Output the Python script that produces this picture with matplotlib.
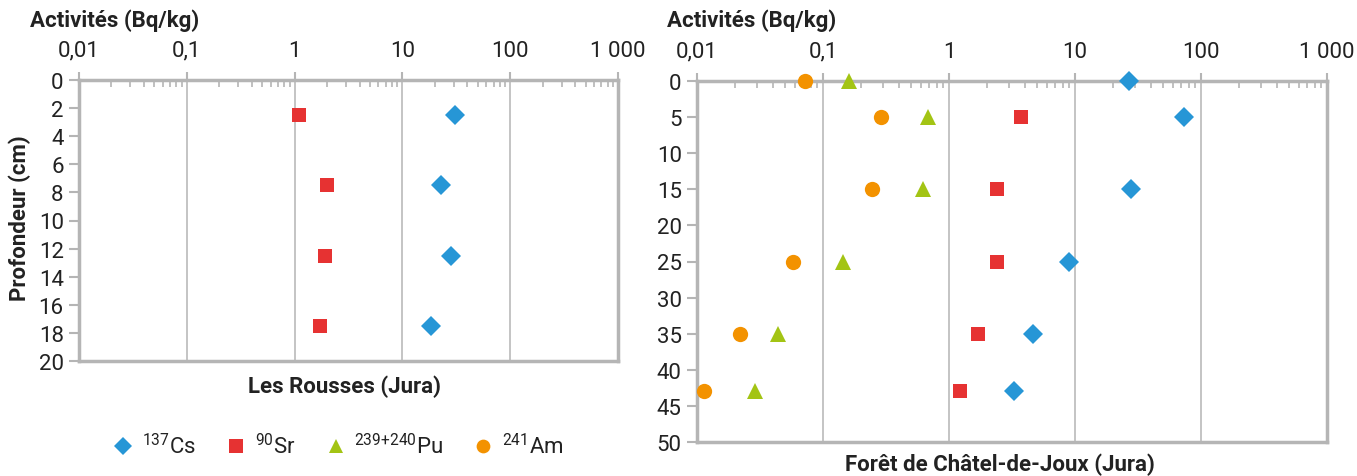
import matplotlib
matplotlib.use("Agg")
import matplotlib.pyplot as plt
from matplotlib.ticker import LogLocator, FixedLocator, NullFormatter
from matplotlib.lines import Line2D

plt.rcParams['font.family'] = ['Roboto', 'DejaVu Sans']
plt.rcParams['mathtext.fontset'] = 'custom'
plt.rcParams['mathtext.rm'] = 'Roboto'

# Les Rousses (Jura)
rousses_depth = [2.5, 7.5, 12.5, 17.5]
rousses_cs = [31, 23, 28, 18.5]
rousses_sr = [1.1, 2.0, 1.9, 1.73]

# Forêt de Châtel-de-Joux (Jura)
chatel_depth = [0, 5, 15, 25, 35, 43]
chatel_cs = [27, 73, 28, 9.0, 4.6, 3.3]
chatel_sr = [None, 3.7, 2.4, 2.4, 1.7, 1.22]
chatel_pu = [0.16, 0.68, 0.62, 0.144, 0.044, 0.029]
chatel_am = [0.072, 0.29, 0.245, 0.058, 0.022, 0.0114]

x_ticks = [0.01, 0.1, 1, 10, 100, 1000]
x_tick_labels = ["0,01", "0,1", "1", "10", "100", "1 000"]

C_CS = "#2696d6"
C_SR = "#e63232"
C_PU = "#a3c414"
C_AM = "#f39200"
GRID = "#c4c4c4"
FRAME = "#b5b5b5"
TXT = "#222222"

series_style = {
    "cs": dict(marker="D", color=C_CS, ms=10.5),
    "sr": dict(marker="s", color=C_SR, ms=10.5),
    "pu": dict(marker="^", color=C_PU, ms=11.5),
    "am": dict(marker="o", color=C_AM, ms=11),
}

fig = plt.figure(figsize=(13.57, 4.77), dpi=100)
ax1 = fig.add_axes([79/1357, 1-362/477, (618-79)/1357, (362-81)/477])
ax2 = fig.add_axes([697/1357, 1-443/477, (1327-697)/1357, (443-82)/477])


def style_axis(ax, ymax, ystep):
    ax.set_xscale("log")
    ax.set_xlim(0.01, 1000)
    ax.set_ylim(ymax, 0)
    ax.xaxis.set_ticks_position("top")
    ax.xaxis.set_major_locator(FixedLocator(x_ticks))
    ax.set_xticklabels(x_tick_labels)
    ax.xaxis.set_minor_locator(LogLocator(base=10, subs=range(2, 10), numticks=20))
    ax.xaxis.set_minor_formatter(NullFormatter())
    ax.tick_params(axis="x", which="major", direction="out", length=6, width=1.5,
                   color=FRAME, labelsize=16, labelcolor=TXT, pad=8)
    ax.tick_params(axis="x", which="minor", direction="in", length=5, width=1.2,
                   color=FRAME)
    ax.set_yticks(list(range(0, ymax + 1, ystep)))
    ax.tick_params(axis="y", which="major", direction="out", length=7, width=1.5,
                   color=FRAME, labelsize=16, labelcolor=TXT, pad=4)
    for s in ax.spines.values():
        s.set_color(FRAME)
        s.set_linewidth(2.5)
    ax.grid(axis="x", which="major", color=GRID, lw=1.4)
    ax.set_axisbelow(True)


def plot_series(ax, vals, depths, key):
    xs = [v for v in vals if v is not None]
    ys = [d for v, d in zip(vals, depths) if v is not None]
    st = series_style[key]
    ax.plot(xs, ys, ls="none", marker=st["marker"], ms=st["ms"],
            mfc=st["color"], mec=st["color"], mew=0, zorder=5, clip_on=False)


style_axis(ax1, 20, 2)
style_axis(ax2, 50, 5)

plot_series(ax1, rousses_cs, rousses_depth, "cs")
plot_series(ax1, rousses_sr, rousses_depth, "sr")

plot_series(ax2, chatel_cs, chatel_depth, "cs")
plot_series(ax2, chatel_sr, chatel_depth, "sr")
plot_series(ax2, chatel_pu, chatel_depth, "pu")
plot_series(ax2, chatel_am, chatel_depth, "am")

title_kw = dict(fontsize=16, fontweight="bold", color=TXT)
fig.text(30/1357, 1-21/477, "Activités (Bq/kg)", ha="left", va="center", **title_kw)
fig.text(667/1357, 1-21/477, "Activités (Bq/kg)", ha="left", va="center", **title_kw)
fig.text(345/1357, 1-387/477, "Les Rousses (Jura)", ha="center", va="center", **title_kw)
fig.text(1000/1357, 1-465/477, "Forêt de Châtel-de-Joux (Jura)", ha="center", va="center", **title_kw)
fig.text(20/1357, 1-218/477, "Profondeur (cm)", ha="center", va="center",
         rotation=90, **title_kw)

labels = [r"$^{137}$Cs", r"$^{90}$Sr", r"$^{239{+}240}$Pu", r"$^{241}$Am"]
handles = [Line2D([], [], ls="none", marker=series_style[k]["marker"],
                  ms=series_style[k]["ms"] * 0.9, mfc=series_style[k]["color"],
                  mec=series_style[k]["color"], mew=0)
           for k in ["cs", "sr", "pu", "am"]]
fig.legend(handles, labels, loc="center", bbox_to_anchor=(338/1357, 1-447/477),
           ncol=4, frameon=False, fontsize=16, handletextpad=0.35,
           columnspacing=1.3, handlelength=1.0, labelcolor=TXT)

fig.savefig("out.png", dpi=100)
